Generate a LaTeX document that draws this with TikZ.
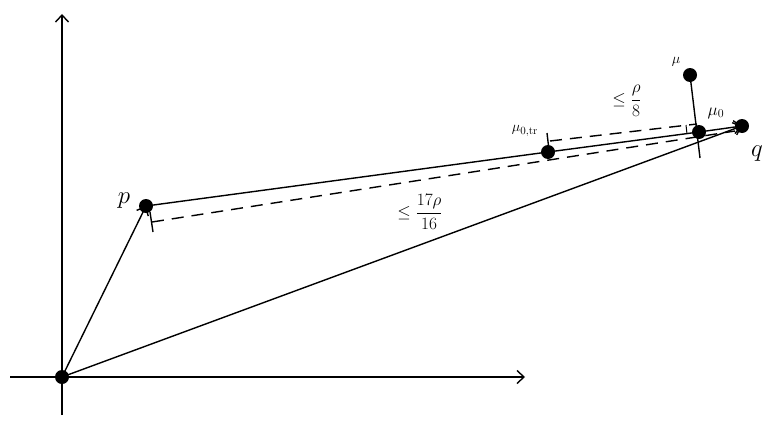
\documentclass[tikz,border=0pt]{standalone}
\usetikzlibrary{arrows.meta}
\begin{document}
\begin{tikzpicture}[x=1pt,y=-1pt,line width=1.4pt,
  dot/.style={circle,fill=black,inner sep=0pt,minimum size=14pt},
  arr/.style={-{Straight Barb[length=7pt,width=13pt]}},
  lbl/.style={inner sep=1pt}]
\useasboundingbox (0,0) rectangle (775,428);
\coordinate (xs) at (10,377); \coordinate (xe) at (525,377);
\coordinate (ys) at (62,415); \coordinate (ye) at (62,14);
\draw[arr] (xs) -- (xe);
\draw[arr] (ys) -- (ye);
\node[dot] (O) at (62,377) {};
\node[dot] (p) at (146,206) {};
\node[dot] (q) at (742,126) {};
\node[dot] (m0) at (699,132) {};
\node[dot] (m) at (690,75) {};
\node[dot] (mt) at (548,152) {};
\draw[arr] (O.center) -- (p.center);
\draw[arr] (O.center) -- (q.center);
\draw (p.center) -- (mt.center) -- (m0.center);
\draw[arr] (m0.center) -- (q.center);
\coordinate (tk) at (700,158);
\draw (m.center) -- (tk);
% dashed lines
\coordinate (d1) at (152,222); \coordinate (d2) at (735,131);
\draw[dash pattern=on 12pt off 8pt] (d1) -- (d2);
\coordinate (t1a) at (150,212); \coordinate (t1b) at (153,232);
\draw (t1a) -- (t1b);
\coordinate (e1) at (550,141); \coordinate (e2) at (697,124);
\draw[dash pattern=on 12pt off 8pt] (e1) -- (e2);
\coordinate (t2a) at (547,133); \coordinate (t2b) at (549,150);
\draw (t2a) -- (t2b);
\coordinate (r1) at (686,125); \coordinate (r2) at (687,134);
\draw[line width=1pt] (r1) -- (r2);
\node[lbl,font=\fontsize{34}{36}\selectfont] at (124,201) {$p$};
\node[lbl,font=\fontsize{34}{36}\selectfont] at (757,154) {$q$};
\node[lbl,font=\fontsize{15}{16}\selectfont] at (676,62) {$\mu$};
\node[lbl,font=\fontsize{17}{18}\selectfont] at (716,113) {$\mu_0$};
\node[lbl,font=\fontsize{15}{16}\selectfont] at (525,131) {$\mu_{0,\mathrm{tr}}$};
\node[lbl,font=\fontsize{16}{18}\selectfont] at (627,101) {$\le{\displaystyle\frac{\rho}{8}}$};
\node[lbl,font=\fontsize{16}{18}\selectfont] at (420,212) {$\le{\displaystyle\frac{17\rho}{16}}$};
\end{tikzpicture}
\end{document}
